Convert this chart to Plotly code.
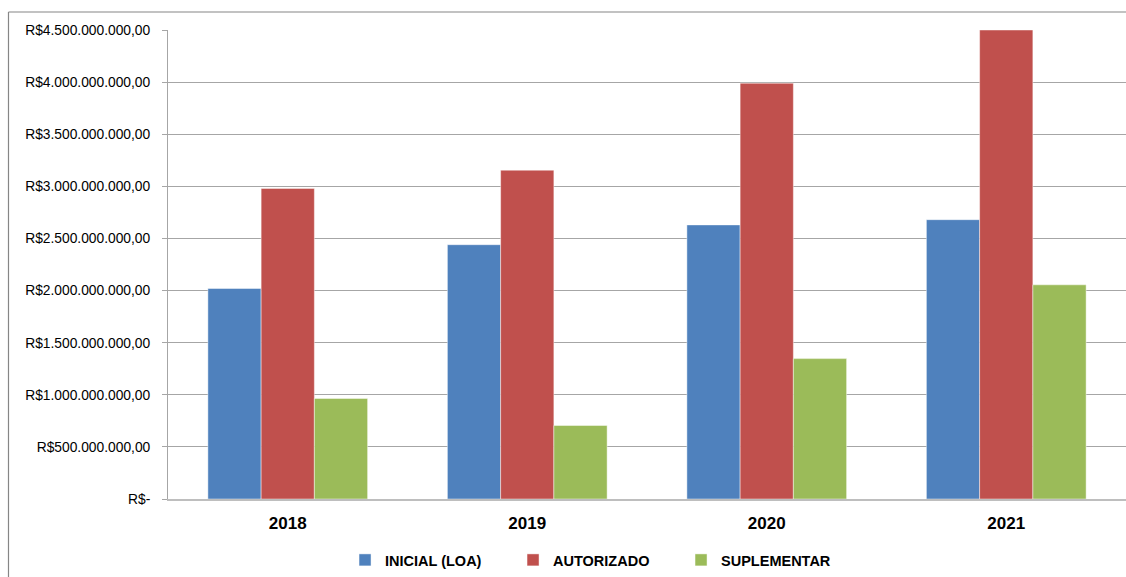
import plotly.graph_objects as go

# Data
years = ['2018', '2019', '2020', '2021']
inicial_loa = [2.02e9, 2.44e9, 2.63e9, 2.68e9]
autorizado = [2.98e9, 3.155e9, 3.99e9, 4.50e9]
suplementar = [0.965e9, 0.705e9, 1.347e9, 2.055e9]

y_ticks = [i * 0.5e9 for i in range(10)]


def brl(v):
    """Format a value the way Excel's accounting format does (pt-BR)."""
    if v == 0:
        return 'R$-'
    s = f'{v:,.2f}'.replace(',', 'X').replace('.', ',').replace('X', '.')
    return 'R$' + s


font_family = 'Liberation Sans, Arial, sans-serif'

fig = go.Figure()

series = [
    ('INICIAL (LOA)', inicial_loa, '#4F81BD'),
    ('AUTORIZADO', autorizado, '#C0504D'),
    ('SUPLEMENTAR', suplementar, '#9BBB59'),
]
for name, vals, color in series:
    fig.add_trace(go.Bar(
        x=years,
        y=vals,
        name=name,
        marker=dict(color=color, line=dict(color='rgba(255,255,255,0.45)', width=1)),
    ))

# Outer chart frame: only top and left edges are visible in the cropped reference
frame = dict(color='#868686', width=1.2)
fig.add_shape(type='line', xref='paper', yref='paper',
              x0=-0.1665, x1=1.0, y0=1.0384, y1=1.0384, line=frame)
fig.add_shape(type='line', xref='paper', yref='paper',
              x0=-0.1665, x1=-0.1665, y0=-0.2, y1=1.0384, line=frame)

fig.update_xaxes(
    showgrid=False,
    showline=True, linecolor='#BEBEBE', linewidth=2,
    ticks='',
    tickfont=dict(family=font_family, size=17, color='#000000', weight='bold'),
    ticklabelstandoff=8,
)

fig.update_yaxes(
    range=[0, 4.5e9],
    tickvals=y_ticks,
    ticktext=[brl(v) for v in y_ticks],
    showgrid=True, gridcolor='#A6A6A6', gridwidth=1,
    showline=True, linecolor='#A6A6A6', linewidth=1,
    ticks='outside', ticklen=5, tickcolor='#A6A6A6',
    tickfont=dict(family=font_family, size=13.8, color='#000000'),
    ticklabelstandoff=9,
    zeroline=False,
)

fig.update_layout(
    width=1126,
    height=577,
    barmode='group',
    bargap=0.333,
    bargroupgap=0,
    plot_bgcolor='white',
    paper_bgcolor='white',
    margin=dict(l=168, r=0, t=30, b=78),
    legend=dict(
        orientation='h',
        x=0.1848, xanchor='left',
        y=-0.13, yanchor='middle',
        font=dict(family=font_family, size=14.5, color='#000000', weight='bold'),
        entrywidth=123, entrywidthmode='pixels',
        itemclick=False,
    ),
    showlegend=True,
)

# drop the default page margin / scrollbars so the figure fills the window exactly
fig.write_html(
    'out.html',
    config={'displayModeBar': False},
    post_script="document.body.style.margin='0';document.body.style.overflow='hidden';",
)
